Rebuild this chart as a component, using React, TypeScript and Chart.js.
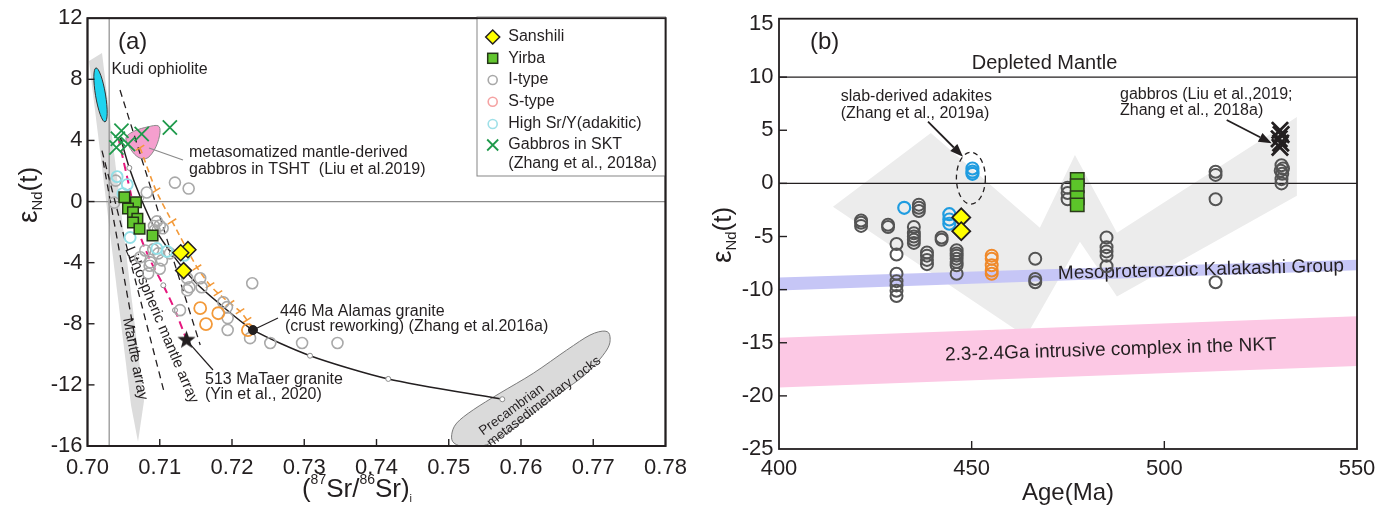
import { useEffect, useRef } from 'react';
import { Chart, registerables } from 'chart.js';

Chart.register(...registerables);

const FONT = "'Liberation Sans', Arial, Helvetica, sans-serif";
const INK = '#231f20';
type P = [number, number];

// ================= Panel (a): eNd(t) vs (87Sr/86Sr)i =================
const aXTicks = [0.7, 0.71, 0.72, 0.73, 0.74, 0.75, 0.76, 0.77, 0.78];
const aXTickLabels = ['0.70', '0.71', '0.72', '0.73', '0.74', '0.75', '0.76', '0.77', '0.78'];
const aYTicks = [-16, -12, -8, -4, 0, 4, 8, 12];
const aYTickLabels = ['-16', '-12', '-8', '-4', '0', '4', '8', '12'];
const aLegendLabels = ['Sanshili', 'Yirba', 'I-type', 'S-type', 'High Sr/Y(adakitic)', 'Gabbros in SKT', '(Zhang et al., 2018a)'];

const aSanshili: P[] = [[0.7139, -3.15], [0.7129, -3.35], [0.7133, -4.52]];
const aYirba: P[] = [[0.7051, 0.28], [0.7067, -0.05], [0.7056, -0.46], [0.7063, -0.7], [0.7069, -1.13], [0.7063, -1.37], [0.7072, -1.78], [0.709, -2.22]];
const aIType: P[] = [
  [0.7039, 1.37], [0.7037, -0.07], [0.7121, 1.24], [0.714, 0.85], [0.7082, 0.59],
  [0.7096, -1.3], [0.71, -1.57], [0.7093, -1.89], [0.7092, -1.6], [0.7104, -1.75],
  [0.708, -3.2], [0.7091, -3.13], [0.7098, -3.39], [0.7103, -3.85], [0.7114, -3.39],
  [0.7073, -3.65], [0.7087, -3.98], [0.7086, -4.2], [0.71, -4.4], [0.7084, -4.7],
  [0.7138, -5.02], [0.7141, -5.61], [0.7138, -5.81], [0.7156, -5.02], [0.7158, -5.61],
  [0.7228, -5.35], [0.7188, -6.59], [0.7193, -6.91], [0.7194, -7.63], [0.7194, -8.41],
  [0.7128, -7.11], [0.7225, -8.94], [0.7253, -9.26], [0.7297, -9.26], [0.7346, -9.26],
];
const aSType: P[] = [[0.7156, -6.98], [0.7181, -7.31], [0.7164, -8.02], [0.7222, -8.41]];
const aAdakitic: P[] = [[0.7041, 1.63], [0.7055, 1.11], [0.7049, 0.52], [0.7059, -2.35], [0.7096, -3.07], [0.711, -3.26], [0.7134, -3.52]];
const aGabbrosSKT: P[] = [[0.7047, 4.63], [0.704, 3.54], [0.7056, 3.76], [0.7075, 4.42], [0.7114, 4.85], [0.7042, 4.11]];
const aTaerGranite: P[] = [[0.7137, -9.07]];
const aAlamasGranite: P[] = [[0.7229, -8.41]];

const aMixCurve: P[] = [
  [0.70457, 4.17], [0.70579, 2.2], [0.7074, 0.2], [0.70934, -1.78], [0.71165, -3.41], [0.71511, -5.37],
  [0.7188, -6.9], [0.72295, -8.42], [0.7308, -10.09], [0.74163, -11.61], [0.75741, -12.94],
];
const aMagentaCurve: P[] = [[0.70426, 4.19], [0.7059, 0.72], [0.7072, -2.11], [0.7087, -3.85], [0.71049, -5.48], [0.71211, -7.11], [0.71373, -9.07]];
const aOrangeCurve: P[] = [
  [0.70727, 3.52], [0.70948, 0.72], [0.7117, -1.3], [0.71516, -4.31], [0.71696, -5.48],
  [0.71806, -6.0], [0.71972, -6.65], [0.72111, -7.18], [0.72208, -7.76], [0.72291, -8.41],
];
const aDashL1: P[] = [[0.7045, 7.3], [0.7156, -9.39]];
const aDashL2: P[] = [[0.702, 3.33], [0.7106, -12.46]];
const aDashL3: P[] = [[0.70215, 2.67], [0.70713, -10.37]];
const aRefVertical: P[] = [[0.703, -16], [0.703, 12]];
const aRefZero: P[] = [[0.7, 0], [0.78, 0]];

const aMantleArray: P[] = [[0.70021, 9.2], [0.70201, 9.72], [0.70782, -13.05], [0.70699, -15.72], [0.70602, -13.31]];
const aTshtGabbros: P[] = [
  [0.70533, 4.17], [0.70657, 4.63], [0.70837, 4.89], [0.70976, 4.96], [0.71003, 4.5],
  [0.70948, 3.59], [0.70837, 2.87], [0.70713, 2.87], [0.70602, 3.39],
];
const aPrecambrian: P[] = [
  [0.75041, -15.26], [0.7511, -14.5], [0.7534, -13.63], [0.75709, -12.54], [0.7617, -11.24], [0.76633, -9.72],
  [0.76955, -8.74], [0.77163, -8.48], [0.77232, -8.85], [0.77186, -9.72], [0.7691, -11.24], [0.7654, -12.54],
  [0.7617, -13.85], [0.75802, -15.15], [0.75525, -15.92], [0.75248, -16.07], [0.75073, -15.81],
];
const aKudi = { x: 0.7018, y: 6.98, rx: 0.00069, ry: 1.79 };

// ================= Panel (b): eNd(t) vs Age =================
const bXTicks = [400, 450, 500, 550];
const bXTickLabels = ['400', '450', '500', '550'];
const bYTicks = [-25, -20, -15, -10, -5, 0, 5, 10, 15];
const bYTickLabels = ['-25', '-20', '-15', '-10', '-5', '0', '5', '10', '15'];

const bIType: P[] = [
  [421.3, -3.5], [421.3, -3.7], [421.3, -4.0],
  [428.3, -3.9], [428.3, -4.1],
  [430.5, -5.7], [430.5, -6.7], [430.5, -8.5], [430.5, -9.2], [430.5, -9.6], [430.5, -10.1], [430.5, -10.6],
  [435.0, -4.1], [435.0, -4.7], [435.0, -5.0], [435.0, -5.3], [435.0, -5.6],
  [436.3, -2.0], [436.3, -2.3], [436.3, -2.6],
  [438.4, -6.5], [438.4, -6.8], [438.4, -7.2], [438.4, -7.6],
  [442.2, -5.1], [442.2, -5.3],
  [446.1, -6.3], [446.1, -6.6], [446.1, -6.8], [446.1, -7.1], [446.1, -7.4], [446.1, -7.7], [446.1, -8.5],
  [466.5, -7.1], [466.5, -9.0], [466.5, -9.3],
  [474.9, -0.4], [474.9, -0.9], [474.9, -1.5],
  [485.0, -5.1], [485.0, -6.0], [485.0, -6.4], [485.0, -6.8], [485.0, -7.8],
  [513.3, 1.1], [513.3, 0.8], [513.3, -1.5], [513.3, -9.3],
  [530.4, 1.7], [530.8, 1.4], [530.2, 1.2], [530.6, 0.9], [530.4, 0.4], [530.4, 0.0],
];
const bAdakitic: P[] = [[432.5, -2.3], [444.2, -2.9], [444.2, -3.4], [444.2, -3.8], [450.2, 1.4], [450.2, 1.1], [450.2, 0.9]];
const bSType: P[] = [[455.2, -6.8], [455.2, -7.1], [455.2, -7.7], [455.2, -8.2], [455.2, -8.5]];
const bSanshili: P[] = [[447.3, -3.2], [447.3, -4.5]];
const bYirba: P[] = [[477.4, 0.38], [477.4, -0.23], [477.4, -1.36], [477.4, -2.02]];
const bGabbros: P[] = [[530.0, 5.0], [530.3, 4.6], [529.8, 4.2], [530.2, 3.8], [530.0, 3.4]];
const bDepletedMantle: P[] = [[400, 10], [550, 10]];
const bZeroLine: P[] = [[400, 0], [550, 0]];
const bZigzag: P[] = [[414.0, -2.2], [439.4, 4.74], [467.7, -4.17], [476.8, 2.67], [487.7, -4.64], [534.4, 6.24], [534.4, -1.17], [487.7, -10.65], [478.1, -5.49], [464.1, -14.4]];
const bKalakashi: P[] = [[400, -8.86], [550, -7.18], [550, -8.18], [400, -10.08]];
const bNKT: P[] = [[400, -14.52], [550, -12.5], [550, -17.19], [400, -19.21]];
const bAdakiteRing = { x: 449.8, y: 0.49, rx: 3.76, ry: 2.44 };

// ================= helpers =================
const pts = (a: P[]) => a.map(([x, y]) => ({ x, y }));
const sx = (c: any, v: number) => c.scales.x.getPixelForValue(v);
const sy = (c: any, v: number) => c.scales.y.getPixelForValue(v);

function shape(c: any, data: P[], smooth: boolean) {
  const ctx = c.ctx;
  const q = data.map(([x, y]) => [sx(c, x), sy(c, y)]);
  ctx.beginPath();
  if (!smooth) {
    q.forEach(([x, y], i) => (i ? ctx.lineTo(x, y) : ctx.moveTo(x, y)));
    ctx.closePath();
    return;
  }
  const n = q.length;
  ctx.moveTo(q[0][0], q[0][1]);
  for (let i = 0; i < n; i++) {
    const p0 = q[(i - 1 + n) % n], p1 = q[i], p2 = q[(i + 1) % n], p3 = q[(i + 2) % n];
    const c1x = p1[0] + (p2[0] - p0[0]) / 6, c1y = p1[1] + (p2[1] - p0[1]) / 6;
    const c2x = p2[0] - (p3[0] - p1[0]) / 6, c2y = p2[1] - (p3[1] - p1[1]) / 6;
    ctx.bezierCurveTo(c1x, c1y, c2x, c2y, p2[0], p2[1]);
  }
  ctx.closePath();
}

function txt(ctx: any, s: string, x: number, y: number, size: number, o: any = {}) {
  ctx.save();
  ctx.translate(x, y);
  if (o.rot) ctx.rotate((o.rot * Math.PI) / 180);
  ctx.font = `${size}px ${FONT}`;
  ctx.fillStyle = o.color || INK;
  ctx.textAlign = o.align || 'left';
  ctx.textBaseline = o.base || 'middle';
  ctx.fillText(s, 0, 0);
  ctx.restore();
}

type Run = [string, number, number];
function runs(ctx: any, parts: Run[], x: number, y: number, rot = 0) {
  ctx.save();
  ctx.translate(x, y);
  ctx.rotate(rot);
  ctx.fillStyle = INK;
  ctx.textBaseline = 'alphabetic';
  ctx.textAlign = 'left';
  let w = 0;
  for (const [t, s] of parts) { ctx.font = `${s}px ${FONT}`; w += ctx.measureText(t).width; }
  let cx = -w / 2;
  for (const [t, s, dy] of parts) {
    ctx.font = `${s}px ${FONT}`;
    ctx.fillText(t, cx, dy);
    cx += ctx.measureText(t).width;
  }
  ctx.restore();
}

function seg(ctx: any, x1: number, y1: number, x2: number, y2: number, color = INK, lw = 1.2) {
  ctx.save();
  ctx.strokeStyle = color; ctx.lineWidth = lw;
  ctx.beginPath(); ctx.moveTo(x1, y1); ctx.lineTo(x2, y2); ctx.stroke();
  ctx.restore();
}

function arrow(ctx: any, x1: number, y1: number, x2: number, y2: number) {
  const ang = Math.atan2(y2 - y1, x2 - x1);
  const hl = 13, hw = 5;
  const bx = x2 - hl * Math.cos(ang), by = y2 - hl * Math.sin(ang);
  seg(ctx, x1, y1, bx, by, INK, 1.8);
  ctx.save();
  ctx.fillStyle = INK;
  ctx.beginPath();
  ctx.moveTo(x2, y2);
  ctx.lineTo(bx + hw * Math.sin(ang), by - hw * Math.cos(ang));
  ctx.lineTo(bx - hw * Math.sin(ang), by + hw * Math.cos(ang));
  ctx.closePath();
  ctx.fill();
  ctx.restore();
}

function frameTicks(c: any, len: number, skipY: (v: number) => boolean) {
  const { ctx, chartArea: a } = c;
  ctx.save();
  ctx.strokeStyle = INK;
  ctx.lineWidth = 1.8;
  ctx.strokeRect(a.left, a.top, a.right - a.left, a.bottom - a.top);
  ctx.lineWidth = 1.4;
  c.scales.x.ticks.forEach((t: any) => {
    const x = sx(c, t.value);
    if (x <= a.left + 1 || x >= a.right - 1) return;
    ctx.beginPath(); ctx.moveTo(x, a.bottom); ctx.lineTo(x, a.bottom - len); ctx.stroke();
  });
  c.scales.y.ticks.forEach((t: any) => {
    const y = sy(c, t.value);
    if (y <= a.top + 1 || y >= a.bottom - 1 || skipY(t.value)) return;
    ctx.beginPath(); ctx.moveTo(a.left, y); ctx.lineTo(a.left + len, y); ctx.stroke();
  });
  ctx.restore();
}

function clipArea(c: any) {
  const { ctx, chartArea: a } = c;
  ctx.beginPath();
  ctx.rect(a.left, a.top, a.right - a.left, a.bottom - a.top);
  ctx.clip();
}

function makeStar(r: number, color: string) {
  const c = document.createElement('canvas');
  const s = Math.ceil(r * 2 + 2);
  c.width = s; c.height = s;
  const g = c.getContext('2d')!;
  g.beginPath();
  for (let i = 0; i < 10; i++) {
    const ang = -Math.PI / 2 + (i * Math.PI) / 5;
    const rr = i % 2 === 0 ? r : r * 0.42;
    g.lineTo(s / 2 + rr * Math.cos(ang), s / 2 + rr * Math.sin(ang));
  }
  g.closePath();
  g.fillStyle = color;
  g.fill();
  return c;
}

const openCircles = (data: P[], color: string, r: number, lw: number, order: number) => ({
  data: pts(data), pointStyle: 'circle', pointRadius: r, pointBorderWidth: lw, pointBorderColor: color,
  pointBackgroundColor: 'rgba(0,0,0,0)', borderColor: color, backgroundColor: 'rgba(0,0,0,0)', showLine: false, order,
});
const lineSet = (data: P[], color: string, lw: number, dash: number[], order: number, extra: any = {}) => ({
  data: pts(data), showLine: true, borderColor: color, borderWidth: lw, borderDash: dash, pointRadius: 0,
  fill: false, order, ...extra,
});
const filled = (data: P[], style: string, r: number, bg: string, border: string, bw: number, order: number) => ({
  data: pts(data), pointStyle: style, pointRadius: r, pointBackgroundColor: bg, pointBorderColor: border,
  pointBorderWidth: bw, backgroundColor: bg, borderColor: border, showLine: false, order,
});

const tickFont = { family: FONT, size: 22 };

// ================= Panel (a) plugin =================
const panelAPlugin = {
  id: 'panelA',
  beforeDatasetsDraw(c: any) {
    const ctx = c.ctx;
    ctx.save();
    clipArea(c);
    shape(c, aMantleArray, false);
    ctx.fillStyle = '#dcdcdc'; ctx.fill();
    const kx = sx(c, aKudi.x), ky = sy(c, aKudi.y);
    const krx = Math.abs(sx(c, aKudi.x + aKudi.rx) - kx), kry = Math.abs(sy(c, aKudi.y + aKudi.ry) - ky);
    ctx.beginPath();
    ctx.ellipse(kx, ky, krx, kry, (-9.5 * Math.PI) / 180, 0, Math.PI * 2);
    ctx.fillStyle = '#1fd3ef'; ctx.fill();
    ctx.strokeStyle = '#333'; ctx.lineWidth = 1; ctx.stroke();
    shape(c, aPrecambrian, true);
    ctx.fillStyle = '#dadada'; ctx.fill();
    ctx.strokeStyle = '#7a7a7a'; ctx.lineWidth = 1; ctx.stroke();
    shape(c, aTshtGabbros, true);
    ctx.fillStyle = '#f59fce'; ctx.fill();
    ctx.strokeStyle = '#8a8a8a'; ctx.lineWidth = 1; ctx.stroke();
    ctx.restore();
    txt(ctx, 'Lithospheric mantle array', 161.5, 325, 15, { align: 'center', rot: 67.2 });
    txt(ctx, 'Mantle array', 135, 359, 15, { align: 'center', rot: 79 });
    txt(ctx, 'Precambrian', 511.7, 410, 13.5, { align: 'center', rot: -36.4 });
    txt(ctx, 'metasedimentary rocks', 544, 401.7, 13.5, { align: 'center', rot: -37.6 });
  },
  afterDatasetsDraw(c: any) {
    const ctx = c.ctx;
    frameTicks(c, 7, () => false);
    ctx.save();
    ctx.fillStyle = '#fff';
    ctx.fillRect(477, 17, 188.5, 159);
    ctx.strokeStyle = '#858585'; ctx.lineWidth = 1;
    ctx.strokeRect(477, 17, 188.5, 159);
    ctx.restore();
    frameTicks(c, 0, () => true);
    const rows = [37, 58.3, 80, 101.7, 124, 145, 164];
    const lx = 492.7;
    ctx.save();
    ctx.beginPath();
    ctx.moveTo(lx, rows[0] - 7); ctx.lineTo(lx + 7, rows[0]); ctx.lineTo(lx, rows[0] + 7); ctx.lineTo(lx - 7, rows[0]); ctx.closePath();
    ctx.fillStyle = '#ffff00'; ctx.fill(); ctx.strokeStyle = INK; ctx.lineWidth = 1.5; ctx.stroke();
    ctx.fillStyle = '#62c62e'; ctx.fillRect(lx - 5, rows[1] - 5, 10, 10);
    ctx.strokeStyle = '#243517'; ctx.strokeRect(lx - 5, rows[1] - 5, 10, 10);
    const circ = (y: number, col: string) => {
      ctx.beginPath(); ctx.arc(lx, y, 4.5, 0, Math.PI * 2); ctx.strokeStyle = col; ctx.lineWidth = 1.6; ctx.stroke();
    };
    circ(rows[2], '#a8a8a8');
    circ(rows[3], '#f5a3a3');
    circ(rows[4], '#9fe0e8');
    ctx.strokeStyle = '#1f9a4b'; ctx.lineWidth = 1.8;
    ctx.beginPath();
    ctx.moveTo(lx - 5.5, rows[5] - 5.5); ctx.lineTo(lx + 5.5, rows[5] + 5.5);
    ctx.moveTo(lx + 5.5, rows[5] - 5.5); ctx.lineTo(lx - 5.5, rows[5] + 5.5);
    ctx.stroke();
    ctx.restore();
    aLegendLabels.forEach((s, i) => txt(ctx, s, 508.3, rows[i], 16));
    txt(ctx, '(a)', 118, 49, 24, { base: 'alphabetic' });
    txt(ctx, 'Kudi ophiolite', 111.5, 70, 16);
    seg(ctx, 149, 148, 183, 160, '#8a8a8a', 1.2);
    txt(ctx, 'metasomatized mantle-derived', 189, 152.7, 16);
    txt(ctx, 'gabbros in TSHT  (Liu et al.2019)', 189, 170, 16);
    const alx = sx(c, aAlamasGranite[0][0]), aly = sy(c, aAlamasGranite[0][1]);
    seg(ctx, alx, aly, 278, 318, INK, 1.2);
    txt(ctx, '446 Ma Alamas granite', 280, 311.7, 16);
    txt(ctx, '(crust reworking) (Zhang et al.2016a)', 285, 326.7, 16);
    const stx = sx(c, aTaerGranite[0][0]), sty = sy(c, aTaerGranite[0][1]);
    seg(ctx, stx, sty, 213, 370, INK, 1.2);
    txt(ctx, '513 MaTaer granite', 205, 379.3, 16);
    txt(ctx, '(Yin et al., 2020)', 205, 395, 16);
    runs(ctx, [['ε', 28, 0], ['Nd', 15, 5], ['(t)', 26, 0]], 37, 195, -Math.PI / 2);
    runs(ctx, [['(', 26, 0], ['87', 14, -13], ['Sr/', 26, 0], ['86', 14, -13], ['Sr)', 26, 0], ['i', 11, 5]], 357, 497);
  },
};

// ================= Panel (b) plugin =================
const BX = 700;
const panelBPlugin = {
  id: 'panelB',
  beforeDatasetsDraw(c: any) {
    const ctx = c.ctx;
    ctx.save();
    clipArea(c);
    shape(c, bZigzag, false);
    ctx.fillStyle = '#ececec'; ctx.fill();
    shape(c, bKalakashi, false);
    ctx.fillStyle = '#c6c6f6'; ctx.fill();
    shape(c, bNKT, false);
    ctx.fillStyle = '#fcc8e4'; ctx.fill();
    const ex = sx(c, bAdakiteRing.x), ey = sy(c, bAdakiteRing.y);
    const erx = Math.abs(sx(c, bAdakiteRing.x + bAdakiteRing.rx) - ex), ery = Math.abs(sy(c, bAdakiteRing.y + bAdakiteRing.ry) - ey);
    ctx.beginPath();
    ctx.ellipse(ex, ey, erx, ery, 0, 0, Math.PI * 2);
    ctx.setLineDash([5, 4]);
    ctx.strokeStyle = INK; ctx.lineWidth = 1.3; ctx.stroke();
    ctx.setLineDash([]);
    ctx.restore();
    txt(ctx, 'Mesoproterozoic Kalakashi Group', 1201 - BX, 270, 19, { align: 'center', rot: -1.5 });
    txt(ctx, '2.3-2.4Ga intrusive complex in the NKT', 1110.8 - BX, 350, 19, { align: 'center', rot: -1.8 });
  },
  afterDatasetsDraw(c: any) {
    const ctx = c.ctx;
    frameTicks(c, 8, (v) => v >= 15);
    txt(ctx, '(b)', 810 - BX, 49, 24, { base: 'alphabetic' });
    txt(ctx, 'Depleted Mantle', 971.7 - BX, 63.3, 20);
    txt(ctx, 'slab-derived adakites', 840.7 - BX, 97, 16);
    txt(ctx, '(Zhang et al., 2019a)', 840.7 - BX, 113.3, 16);
    arrow(ctx, 928 - BX, 121.7, 963 - BX, 156.7);
    txt(ctx, 'gabbros (Liu et al.,2019;', 1120 - BX, 95, 16);
    txt(ctx, 'Zhang et al., 2018a)', 1120 - BX, 111, 16);
    arrow(ctx, 1226.7 - BX, 120, 1271.7 - BX, 143.3);
    runs(ctx, [['ε', 28, 0], ['Nd', 15, 5], ['(t)', 26, 0]], 731 - BX, 235, -Math.PI / 2);
    txt(ctx, 'Age(Ma)', 1068 - BX, 493, 24, { align: 'center' });
  },
};

function baseOptions(xr: any, yr: any, pad: any, yW: number, xH: number) {
  return {
    responsive: false,
    animation: false,
    events: [],
    layout: { padding: pad },
    plugins: { legend: { display: false }, tooltip: { enabled: false } },
    scales: {
      x: {
        type: 'linear', min: xr.min, max: xr.max,
        afterBuildTicks: (s: any) => { s.ticks = xr.ticks.map((value: number) => ({ value })); },
        afterFit: (s: any) => { s.height = xH; },
        grid: { display: false, drawTicks: false },
        border: { display: false },
        ticks: { font: tickFont, color: INK, padding: xr.pad, maxRotation: 0, autoSkip: false, callback: (_v: any, i: number) => xr.labels[i] },
      },
      y: {
        type: 'linear', min: yr.min, max: yr.max,
        afterBuildTicks: (s: any) => { s.ticks = yr.ticks.map((value: number) => ({ value })); },
        afterFit: (s: any) => { s.width = yW; },
        grid: { display: false, drawTicks: false },
        border: { display: false },
        ticks: { font: tickFont, color: INK, padding: yr.pad, autoSkip: false, callback: (_v: any, i: number) => yr.labels[i] },
      },
    },
  };
}

export default function App() {
  const refA = useRef<HTMLCanvasElement>(null);
  const refB = useRef<HTMLCanvasElement>(null);

  useEffect(() => {
    const star = makeStar(9.5, INK);
    const markerAt = (n: number, idx: number[], r: number) => Array.from({ length: n }, (_, i) => (idx.includes(i) ? r : 0));

    const chartA = new Chart(refA.current as HTMLCanvasElement, {
      type: 'scatter',
      data: {
        datasets: [
          { data: pts(aTaerGranite), pointStyle: star, pointRadius: 9, showLine: false, order: 0 },
          filled(aAlamasGranite, 'circle', 4.5, INK, INK, 1, 0),
          filled(aSanshili, 'rectRot', 8, '#ffff00', INK, 1.5, 1),
          filled(aYirba, 'rect', 7.5, '#62c62e', '#243517', 1.5, 2),
          { data: pts(aGabbrosSKT), pointStyle: 'crossRot', pointRadius: 10, pointBorderColor: '#1f9a4b', borderColor: '#1f9a4b', pointBorderWidth: 1.8, showLine: false, order: 3 },
          openCircles(aAdakitic, '#92dfe6', 5.5, 1.9, 4),
          openCircles(aSType, '#f39a3a', 6, 1.8, 5),
          openCircles(aIType, '#a9a9a9', 5.5, 1.6, 6),
          lineSet(aMixCurve, INK, 1.5, [], 7, {
            tension: 0.25,
            pointRadius: markerAt(aMixCurve.length, [1, 2, 3, 4, 8, 9, 10], 2.5),
            pointBackgroundColor: '#fff', pointBorderColor: '#8a8a8a', pointBorderWidth: 1,
          }),
          lineSet(aMagentaCurve, '#e6177e', 2, [8, 5], 8, {
            tension: 0.25,
            pointRadius: markerAt(aMagentaCurve.length, [4, 5], 2.5),
            pointBackgroundColor: '#fff', pointBorderColor: '#8a8a8a', pointBorderWidth: 1,
          }),
          lineSet(aOrangeCurve, '#f39a3a', 1.6, [6, 4], 9, {
            tension: 0.2,
            pointStyle: 'line', pointRotation: -32,
            pointRadius: markerAt(aOrangeCurve.length, [0, 1, 2, 3, 4, 5, 6, 7, 8], 5),
            pointBorderColor: '#f39a3a', pointBorderWidth: 1.5,
          }),
          lineSet(aDashL1, INK, 1.3, [7, 5], 10),
          lineSet(aDashL2, INK, 1.3, [7, 5], 10),
          lineSet(aDashL3, INK, 1.3, [7, 5], 10),
          lineSet(aRefVertical, '#8c8c8c', 1.2, [], 11),
          lineSet(aRefZero, '#8c8c8c', 1.2, [], 11),
        ],
      },
      options: baseOptions(
        { min: 0.7, max: 0.78, ticks: aXTicks, labels: aXTickLabels, pad: 9 },
        { min: -16, max: 12, ticks: aYTicks, labels: aYTickLabels, pad: 5 },
        { left: 0, right: 34.5, top: 17, bottom: 0 }, 87.5, 73,
      ) as any,
      plugins: [panelAPlugin],
    } as any);

    const chartB = new Chart(refB.current as HTMLCanvasElement, {
      type: 'scatter',
      data: {
        datasets: [
          filled(bSanshili, 'rectRot', 9, '#ffff00', INK, 1.8, 0),
          filled(bYirba, 'rect', 9.5, '#5cc42a', '#2b3a1b', 1.5, 1),
          { data: pts(bGabbros), pointStyle: 'crossRot', pointRadius: 11.5, pointBorderColor: INK, borderColor: INK, pointBorderWidth: 2.8, showLine: false, order: 2 },
          openCircles(bAdakitic, '#1f9ce0', 6, 2.2, 3),
          openCircles(bSType, '#f0892a', 6, 2, 4),
          openCircles(bIType, '#545454', 6, 2, 5),
          lineSet(bDepletedMantle, INK, 1.3, [], 6),
          lineSet(bZeroLine, INK, 1.3, [], 6),
        ],
      },
      options: baseOptions(
        { min: 400, max: 550, ticks: bXTicks, labels: bXTickLabels, pad: 7 },
        { min: -25, max: 15.5, ticks: bYTicks, labels: bYTickLabels, pad: 5.5 },
        { left: 0, right: 37, top: 18, bottom: 0 }, 79, 70,
      ) as any,
      plugins: [panelBPlugin],
    } as any);

    return () => {
      chartA.destroy();
      chartB.destroy();
    };
  }, []);

  return (
    <div style={{ position: 'absolute', left: 0, top: 0, width: 1394, height: 519, background: '#fff' }}>
      <canvas ref={refA} width={700} height={519} style={{ position: 'absolute', left: 0, top: 0, width: 700, height: 519 }} />
      <canvas ref={refB} width={694} height={519} style={{ position: 'absolute', left: 700, top: 0, width: 694, height: 519 }} />
    </div>
  );
}
